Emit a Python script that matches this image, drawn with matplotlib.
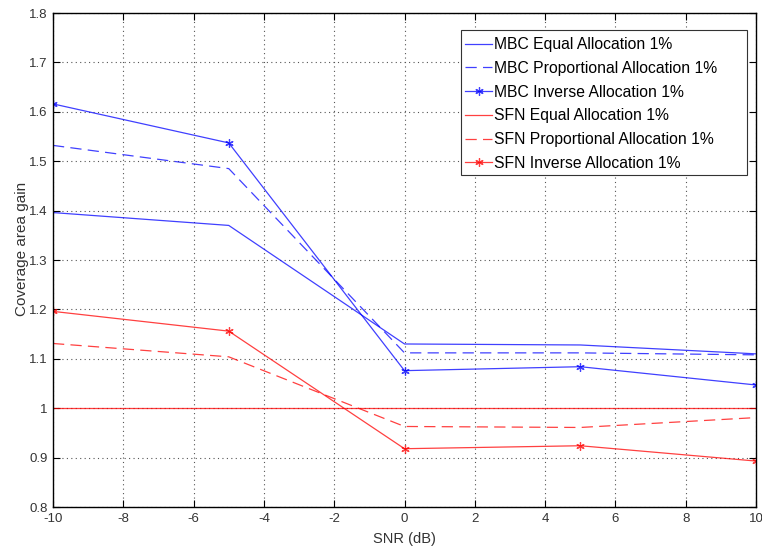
import numpy as np
import matplotlib
matplotlib.use("Agg")
import matplotlib.pyplot as plt
from matplotlib.patches import Rectangle

plt.rcParams['font.family'] = ['Liberation Sans', 'DejaVu Sans']
plt.rcParams['axes.unicode_minus'] = False

snr = [-10, -5, 0, 5, 10]

mbc_equal = [1.396, 1.370, 1.130, 1.128, 1.110]
mbc_prop = [1.532, 1.485, 1.112, 1.112, 1.108]
mbc_inverse = [1.616, 1.537, 1.076, 1.084, 1.047]
sfn_equal = [1.0, 1.0, 1.0, 1.0, 1.0]
sfn_prop = [1.131, 1.104, 0.963, 0.961, 0.981]
sfn_inverse = [1.196, 1.156, 0.918, 0.924, 0.893]

labels = ['MBC Equal Allocation 1%', 'MBC Proportional Allocation 1%',
          'MBC Inverse Allocation 1%', 'SFN Equal Allocation 1%',
          'SFN Proportional Allocation 1%', 'SFN Inverse Allocation 1%']

W, H = 762, 550
fig = plt.figure(figsize=(W / 100, H / 100), dpi=100)
ax = fig.add_axes([53 / W, 1 - 507 / H, 703 / W, 494 / H])

blue = '#0000ff'
red = '#ff0000'
series = [
    (mbc_equal, blue, '-', ''),
    (mbc_prop, blue, '--', ''),
    (mbc_inverse, blue, '-', (6, 2, 0)),
    (sfn_equal, red, '-', ''),
    (sfn_prop, red, '--', ''),
    (sfn_inverse, red, '-', (6, 2, 0)),
]
for (y, c, ls, m), lab in zip(series, labels):
    line, = ax.plot(snr, y, color=c, linestyle=ls, marker=m, ms=6, mew=0.9,
                    lw=0.9, alpha=0.75, label=lab)
    if ls == '--':
        line.set_dashes((9, 5))

ax.set_xlim(-10, 10)
ax.set_ylim(0.8, 1.8)
ax.set_xticks(np.arange(-10, 11, 2))
ax.set_yticks(np.arange(0.8, 1.81, 0.1))
ax.set_yticklabels(['0.8', '0.9', '1', '1.1', '1.2', '1.3', '1.4', '1.5',
                    '1.6', '1.7', '1.8'])
ax.grid(True, color='#555555', linestyle=(0, (1, 3)), linewidth=0.8)
ax.tick_params(direction='in', length=5, labelsize=9.5, top=True, right=True,
               colors='black', width=0.8, pad=4)
for lab in ax.get_xticklabels() + ax.get_yticklabels():
    lab.set_color('#333333')
for sp in ax.spines.values():
    sp.set_linewidth(1.0)

ax.set_xlabel('SNR (dB)', fontsize=10.5, color='#333333', labelpad=5)
ax.set_ylabel('Coverage area gain', fontsize=11, color='#333333')
ax.yaxis.set_label_coords(-0.034, 0.522)

# legend content without frame, box drawn separately with extra right margin
leg = ax.legend(loc='upper left', bbox_to_anchor=(465 / W, 1 - 37 / H),
                bbox_transform=fig.transFigure, fontsize=11.3,
                handlelength=1.75, handletextpad=0.1, labelspacing=0.56,
                borderpad=0, borderaxespad=0, frameon=False)
leg.set_zorder(6)
box = Rectangle((461 / W, 1 - 175 / H), 286 / W, 145 / H,
                transform=fig.transFigure, facecolor='white',
                edgecolor='#333333', linewidth=0.8, zorder=5)
ax.add_artist(box)
box.set_clip_on(False)

fig.savefig('out.png', dpi=100)
